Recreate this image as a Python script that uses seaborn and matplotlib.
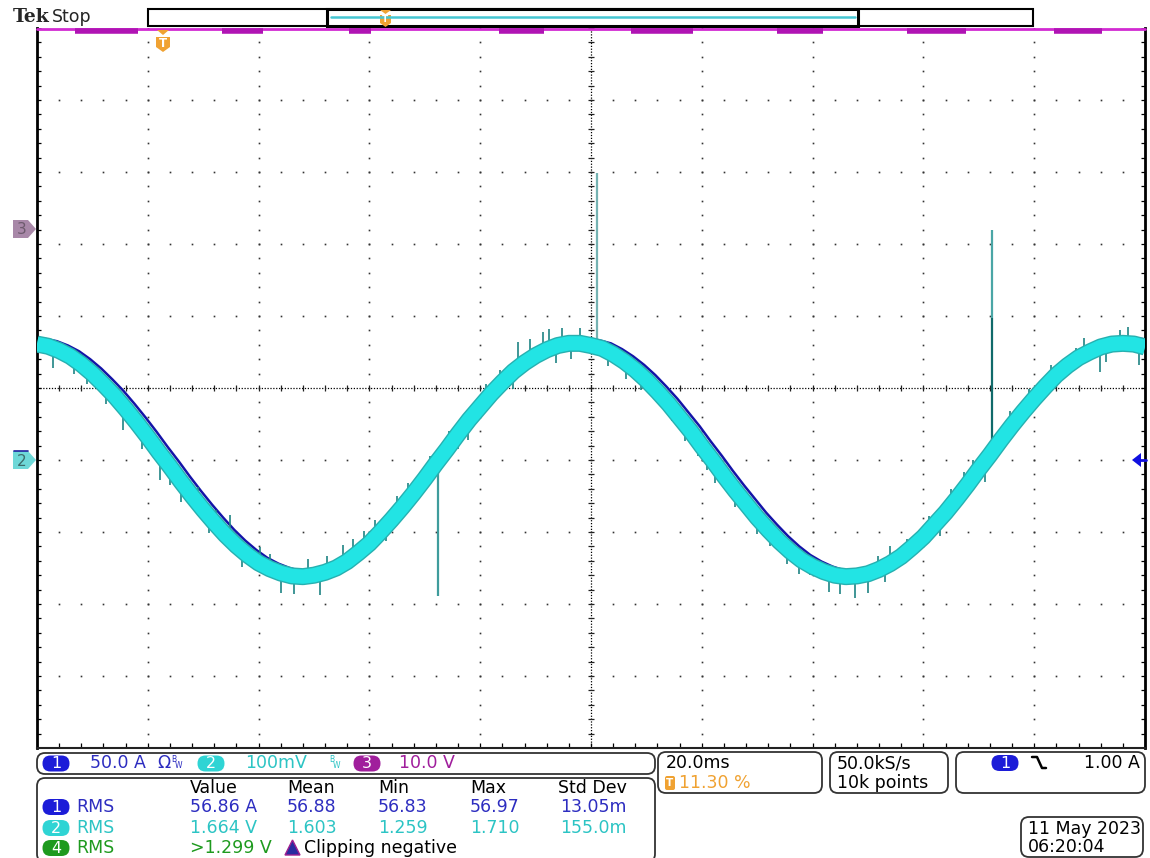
import matplotlib
matplotlib.use("Agg")
import matplotlib.pyplot as plt
import numpy as np
import pandas as pd
import seaborn as sns
from matplotlib.patches import FancyBboxPatch, Rectangle, Polygon

# ---------------- data (graticule divisions) ----------------
time_div = [0.0, 0.1, 0.2, 0.3, 0.4, 0.5, 0.6, 0.7, 0.8, 0.9,
            1.0, 1.1, 1.2, 1.3, 1.4, 1.5, 1.6, 1.7, 1.8, 1.9,
            2.0, 2.1, 2.2, 2.3, 2.4, 2.5, 2.6, 2.7, 2.8, 2.9,
            3.0, 3.1, 3.2, 3.3, 3.4, 3.5, 3.6, 3.7, 3.8, 3.9,
            4.0, 4.1, 4.2, 4.3, 4.4, 4.5, 4.6, 4.7, 4.8, 4.9,
            5.0, 5.1, 5.2, 5.3, 5.4, 5.5, 5.6, 5.7, 5.8, 5.9,
            6.0, 6.1, 6.2, 6.3, 6.4, 6.5, 6.6, 6.7, 6.8, 6.9,
            7.0, 7.1, 7.2, 7.3, 7.4, 7.5, 7.6, 7.7, 7.8, 7.9,
            8.0, 8.1, 8.2, 8.3, 8.4, 8.5, 8.6, 8.7, 8.8, 8.9,
            9.0, 9.1, 9.2, 9.3, 9.4, 9.5, 9.6, 9.7, 9.8, 9.9, 10.0]
ch2_div = [0.61, 0.58, 0.52, 0.44, 0.33, 0.20, 0.05, -0.11, -0.29, -0.48,
           -0.68, -0.89, -1.09, -1.30, -1.50, -1.69, -1.87, -2.04, -2.19, -2.32,
           -2.43, -2.51, -2.57, -2.61, -2.62, -2.60, -2.56, -2.50, -2.41, -2.29,
           -2.16, -2.00, -1.83, -1.65, -1.46, -1.26, -1.05, -0.85, -0.64, -0.44,
           -0.26, -0.08, 0.08, 0.23, 0.35, 0.45, 0.53, 0.59, 0.62, 0.62,
           0.59, 0.55, 0.47, 0.37, 0.25, 0.11, -0.05, -0.22, -0.41, -0.60,
           -0.81, -1.01, -1.22, -1.42, -1.61, -1.80, -1.97, -2.13, -2.27, -2.39,
           -2.48, -2.55, -2.60, -2.62, -2.61, -2.58, -2.52, -2.44, -2.34, -2.21,
           -2.07, -1.90, -1.73, -1.54, -1.34, -1.13, -0.93, -0.72, -0.52, -0.33,
           -0.15, 0.02, 0.18, 0.31, 0.42, 0.50, 0.57, 0.61, 0.62, 0.61, 0.57]
ch1_lag_div = 0.08       # ch1 (current) trace shows slightly behind / above ch2
ch1_offset_div = 0.07

# noise spikes on ch2 (time, root, tip)
spike_t = [0.14, 0.33, 0.45, 0.62, 0.78, 0.95, 1.11, 1.20, 1.30, 1.45, 1.55, 1.62, 1.74, 1.85,
           2.01, 2.10, 2.20, 2.32, 2.45, 2.55, 2.62, 2.76, 2.85, 2.95, 3.05, 3.15, 3.25, 3.35,
           3.55, 3.72, 3.80, 3.89, 4.05, 4.18, 4.30, 4.34, 4.45, 4.57, 4.62, 4.68, 4.74, 4.82,
           4.90, 5.15, 5.32, 5.45, 5.73, 5.85, 5.97, 6.05, 6.12, 6.30, 6.50, 6.62, 6.77, 6.88,
           6.98, 7.15, 7.25, 7.38, 7.50, 7.59, 7.65, 7.70, 7.85, 8.05, 8.15, 8.25, 8.37, 8.45,
           8.56, 8.78, 8.95, 9.15, 9.38, 9.45, 9.59, 9.65, 9.77, 9.85, 9.95]
spike_root = [0.54, 0.39, 0.28, 0.02, -0.26, -0.58, -0.92, -1.09, -1.30, -1.60, -1.78, -1.90, -2.09, -2.25,
              -2.43, -2.51, -2.57, -2.61, -2.62, -2.58, -2.55, -2.44, -2.35, -2.21, -2.08, -1.92, -1.74, -1.56,
              -1.16, -0.81, -0.64, -0.47, -0.17, 0.05, 0.16, 0.33, 0.40, 0.55, 0.55, 0.58, 0.61, 0.62,
              0.61, 0.51, 0.34, 0.18, -0.28, -0.51, -0.78, -0.91, -1.05, -1.42, -1.79, -2.00, -2.22, -2.36,
              -2.45, -2.57, -2.61, -2.61, -2.58, -2.53, -2.48, -2.44, -2.30, -2.00, -1.82, -1.64, -1.39, -1.24,
              -1.05, -0.56, -0.24, 0.10, 0.39, 0.46, 0.57, 0.59, 0.62, 0.62, 0.58]
spike_tip = [0.28, 0.20, 0.05, -0.22, -0.58, -0.85, -1.28, -1.35, -1.58, -1.38, -2.02, -1.70, -1.76, -2.48,
             -2.21, -2.30, -2.85, -2.86, -2.38, -2.87, -2.33, -2.18, -2.10, -1.98, -1.84, -2.12, -1.50, -1.32,
             -0.94, -0.60, -0.85, -0.72, 0.06, 0.25, -0.02, 0.64, 0.68, 0.78, 0.82, 0.35, 0.84, 0.40,
             0.84, 0.30, 0.12, -0.03, -0.46, -0.74, -0.95, -1.14, -1.32, -1.65, -2.03, -2.20, -2.44, -2.58,
             -2.60, -2.83, -2.86, -2.92, -2.85, -2.34, -2.70, -2.20, -2.10, -1.78, -2.05, -1.40, -1.16, -1.00,
             -1.30, -0.32, -0.02, 0.32, 0.56, 0.70, 0.22, 0.36, 0.80, 0.85, 0.32]
# large glitches
glitch_t = [3.62, 5.05, 8.62, 8.62]
glitch_root = [-1.04, 0.62, -0.88, 0.97]
glitch_tip = [-2.89, 2.99, 0.97, 2.19]
glitch_color = ["#3f9c9c", "#74b2b2", "#106a6a", "#4aa6a6"]

# ch3 clipped at the top: thick burst segments
ch3_start = [0.34, 1.67, 2.82, 4.17, 5.36, 6.68, 7.85, 9.18]
ch3_end = [0.91, 2.04, 3.01, 4.58, 5.92, 7.09, 8.38, 9.61]

# readouts
chan_scale = ["50.0 A", "100mV", "10.0 V"]
meas_header = ["Value", "Mean", "Min", "Max", "Std Dev"]
meas_row1 = ["56.86 A", "56.88", "56.83", "56.97", "13.05m"]
meas_row2 = ["1.664 V", "1.603", "1.259", "1.710", "155.0m"]
meas_row3 = [">1.299 V"]
timebase = "20.0ms"
trig_pos = "11.30 %"
sample_rate = ["50.0kS/s", "10k points"]
trig_level = "1.00 A"
date_lines = ["11 May 2023", "06:20:04"]

# ---------------- style ----------------
sns.set_style("white")
plt.rcParams['font.family'] = ['DejaVu Sans']

C1 = "#1c1cd8"; C1T = "#2d2dc0"
C2 = "#2fd4d4"; C2T = "#2cc4c4"
C3 = "#a01e9c"
C4 = "#1e9a1e"
ORANGE = "#f0a232"
BAND = "#22e4e4"; BAND_EDGE = "#27b0b0"; SPIKE = "#1f8484"

W, H = 1150, 858
fig = plt.figure(figsize=(W / 100, H / 100), dpi=100)
fig.patch.set_facecolor("white")

ax = fig.add_axes([37 / W, 1 - 748 / H, 1108 / W, 720 / H])
ax.set_xlim(0, 10)
ax.set_ylim(-5, 5)
ax.set_xticks([]); ax.set_yticks([])
ax.set_facecolor("white")
for s in ["left", "right"]:
    ax.spines[s].set_linewidth(2); ax.spines[s].set_color("black")
ax.spines["bottom"].set_linewidth(1.5); ax.spines["bottom"].set_color("#222")
ax.spines["top"].set_visible(False)

# graticule dots
steps = np.arange(0, 10.001, 0.2)
vsteps = np.arange(-5, 5.001, 0.2)
for gx in [1, 2, 3, 4, 6, 7, 8, 9]:
    ax.plot(np.full(len(vsteps), gx), vsteps, ls="none", marker="s", ms=1.2, mew=0,
            color="#333333", zorder=1)
for gy in [-4, -3, -2, -1, 1, 2, 3, 4]:
    ax.plot(steps, np.full(len(steps), gy), ls="none", marker="s", ms=1.2, mew=0,
            color="#333333", zorder=1)
# crosshair
ax.axvline(5, color="black", lw=0.9, ls=(0, (1, 1.3)), zorder=1)
ax.axhline(0, color="black", lw=0.9, ls=(0, (1, 1.3)), zorder=1)
ax.hlines(vsteps, 5 - 0.03, 5 + 0.03, color="#222", lw=0.9, zorder=1)
ax.vlines(steps, -0.045, 0.045, color="#222", lw=0.9, zorder=1)
# border ticks
ax.hlines(vsteps, 0, 0.04, color="black", lw=0.9, zorder=1)
ax.hlines(vsteps, 10 - 0.04, 10, color="black", lw=0.9, zorder=1)
ax.vlines(steps, -5, -5 + 0.065, color="black", lw=0.9, zorder=1)

# ch1 trace (under the ch2 band)
df = pd.DataFrame({"t": time_div, "ch2": ch2_div})
df["t1"] = df["t"] + ch1_lag_div
df["ch1"] = df["ch2"] + ch1_offset_div
sns.lineplot(data=df, x="t1", y="ch1", ax=ax, color="#1414a8", lw=1.8, sort=False,
             estimator=None, zorder=2, solid_joinstyle="round")

# noise spikes and glitches
ax.vlines(spike_t, spike_root, spike_tip, color=SPIKE, lw=1.2, zorder=3)
ax.vlines(glitch_t, glitch_root, glitch_tip, colors=glitch_color, lw=1.6, zorder=3)

# ch2 band
sns.lineplot(data=df, x="t", y="ch2", ax=ax, color=BAND_EDGE, lw=12.3, sort=False,
             estimator=None, zorder=4, solid_joinstyle="round", solid_capstyle="butt")
sns.lineplot(data=df, x="t", y="ch2", ax=ax, color=BAND, lw=10.3, sort=False,
             estimator=None, zorder=4.1, solid_joinstyle="round", solid_capstyle="butt")

# ch3 clipped at top
ax.axhline(4.985, color="#d22ad2", lw=2.0, zorder=6, clip_on=False)
ax.hlines(np.full(len(ch3_start), 4.955), ch3_start, ch3_end, color="#b014b4", lw=4.0, zorder=6)
ax.set_xlabel(""); ax.set_ylabel("")

# ---------------- overlay in pixel coords ----------------
ov = fig.add_axes([0, 0, 1, 1], zorder=10)
ov.set_xlim(0, W); ov.set_ylim(H, 0)
ov.axis("off")

FS = 12.5

# Tek Stop
ov.text(13, 17, "Tek", fontfamily="DejaVu Serif", fontweight="bold", fontsize=13.5, va="center", ha="left")
ov.text(52, 17, "Stop", fontsize=12.5, va="center", ha="left")

# record bar
ov.add_patch(Rectangle((148, 9), 1033 - 148, 17, fc="white", ec="black", lw=1.5))
ov.add_patch(Rectangle((327, 9), 858 - 327, 17, fc="white", ec="black", lw=2.2))
ov.plot([331, 855], [16.5, 16.5], color="#46c6d2", lw=1.8)
ov.add_patch(Polygon([(380, 10), (391, 10), (385.5, 14)], fc=ORANGE, ec="none"))
ov.add_patch(Polygon([(380, 15), (391, 15), (391, 23), (385.5, 27), (380, 23)], fc=ORANGE, ec="none"))
ov.text(385.5, 20, "T", color="white", fontsize=6.5, fontweight="bold", ha="center", va="center")

# trigger position marker
ov.add_patch(Polygon([(157, 30), (169, 30), (163, 35)], fc=ORANGE, ec="none"))
ov.add_patch(Polygon([(156, 37), (170, 37), (170, 47), (163, 52), (156, 47)], fc=ORANGE, ec="none"))
ov.text(163, 43.5, "T", color="white", fontsize=8.5, fontweight="bold", ha="center", va="center")

# channel ground markers
ov.add_patch(Polygon([(13, 220), (28, 220), (36, 229), (28, 238), (13, 238)], fc="#a888a8", ec="none"))
ov.text(22, 229.5, "3", color="#6d5a6d", fontsize=11, ha="center", va="center")
ov.add_patch(Polygon([(13, 451), (28, 451), (36, 460), (28, 469), (13, 469)], fc="#6ed8d8", ec="none"))
ov.plot([14, 28], [451, 451], color="#2020a0", lw=1.2)
ov.text(22, 461, "2", color="#3d6b6b", fontsize=11, ha="center", va="center")

# trigger level arrow (right)
ov.add_patch(Polygon([(1132, 460), (1141, 453), (1141, 467)], fc="#1010e0", ec="none"))
ov.plot([1140, 1146], [460, 460], color="#1010e0", lw=2)


def rbox(x0, y0, x1, y1, r=8):
    ov.add_patch(FancyBboxPatch((x0, y0), x1 - x0, y1 - y0,
                                boxstyle=f"round,pad=0,rounding_size={r}",
                                fc="white", ec="#333333", lw=1.3))


def pill(xc, y, label, color, w=27, h=16):
    ov.add_patch(FancyBboxPatch((xc - w / 2, y - h / 2), w, h,
                                boxstyle=f"round,pad=0,rounding_size={h/2}",
                                fc=color, ec="none"))
    ov.text(xc, y + 0.5, label, color="white", fontsize=11.5, ha="center", va="center")


# channel scale box
rbox(37, 753, 655, 774)
pill(56, 763.5, "1", C1)
ov.text(90, 763.5, chan_scale[0], color=C1T, fontsize=FS, va="center")
ov.text(157, 763.5, "Ω", color=C1T, fontsize=FS, va="center")
ov.text(171, 760, "B", color=C1T, fontsize=5.5, va="center")
ov.text(175, 766, "W", color=C1T, fontsize=5.5, va="center")
pill(211, 763.5, "2", C2)
ov.text(245, 763.5, chan_scale[1], color=C2T, fontsize=FS, va="center")
ov.text(329, 760, "B", color=C2T, fontsize=5.5, va="center")
ov.text(333, 766, "W", color=C2T, fontsize=5.5, va="center")
pill(367, 763.5, "3", C3)
ov.text(399, 763.5, chan_scale[2], color=C3, fontsize=FS, va="center")

# measurement table
rbox(37, 778, 655, 862)
col_x = [190, 287, 378, 470, 558]
for x, h in zip(col_x, meas_header):
    ov.text(x, 788, h, color="black", fontsize=FS, va="center")
rows_y = [807, 828, 848]
pill(56, rows_y[0], "1", C1)
ov.text(76, rows_y[0], "RMS", color=C1T, fontsize=FS, va="center")
for x, v in zip(col_x, meas_row1):
    ov.text(x + (2 if x == 558 else 0), rows_y[0], v, color=C1T, fontsize=FS, va="center")
pill(56, rows_y[1], "2", C2)
ov.text(76, rows_y[1], "RMS", color=C2T, fontsize=FS, va="center")
for x, v in zip(col_x, meas_row2):
    ov.text(x + (2 if x == 558 else 0), rows_y[1], v, color=C2T, fontsize=FS, va="center")
pill(56, rows_y[2], "4", C4)
ov.text(76, rows_y[2], "RMS", color=C4, fontsize=FS, va="center")
ov.text(190, rows_y[2], meas_row3[0], color=C4, fontsize=FS, va="center")
ov.add_patch(Polygon([(285, 855), (300, 855), (292.5, 840)], fc="#2a2aa0", ec="#a02090", lw=1))
ov.text(304, rows_y[2], "Clipping negative", color="black", fontsize=FS, va="center")

# timebase box
rbox(658, 752, 822, 793)
ov.text(666, 763, timebase, color="black", fontsize=FS, va="center")
ov.add_patch(FancyBboxPatch((665, 776), 10, 14, boxstyle="round,pad=0,rounding_size=2", fc=ORANGE, ec="none"))
ov.text(670, 783.5, "T", color="white", fontsize=7.5, fontweight="bold", ha="center", va="center")
ov.text(679, 783, trig_pos, color=ORANGE, fontsize=FS, va="center")

# sample rate box
rbox(830, 752, 948, 793)
ov.text(837, 763, sample_rate[0], color="black", fontsize=FS, va="center")
ov.text(837, 783, sample_rate[1], color="black", fontsize=FS, va="center")

# trigger box
rbox(956, 752, 1145, 793)
pill(1005, 763, "1", C1)
ov.plot([1032, 1037, 1042, 1046], [757, 757, 768, 768], color="black", lw=1.8)
ov.text(1140, 763, trig_level, color="black", fontsize=FS, va="center", ha="right")

# date box
rbox(1021, 817, 1143, 857)
ov.text(1028, 829, date_lines[0], color="black", fontsize=FS, va="center")
ov.text(1028, 847, date_lines[1], color="black", fontsize=FS, va="center")

fig.savefig("out.png", dpi=100, facecolor="white")
